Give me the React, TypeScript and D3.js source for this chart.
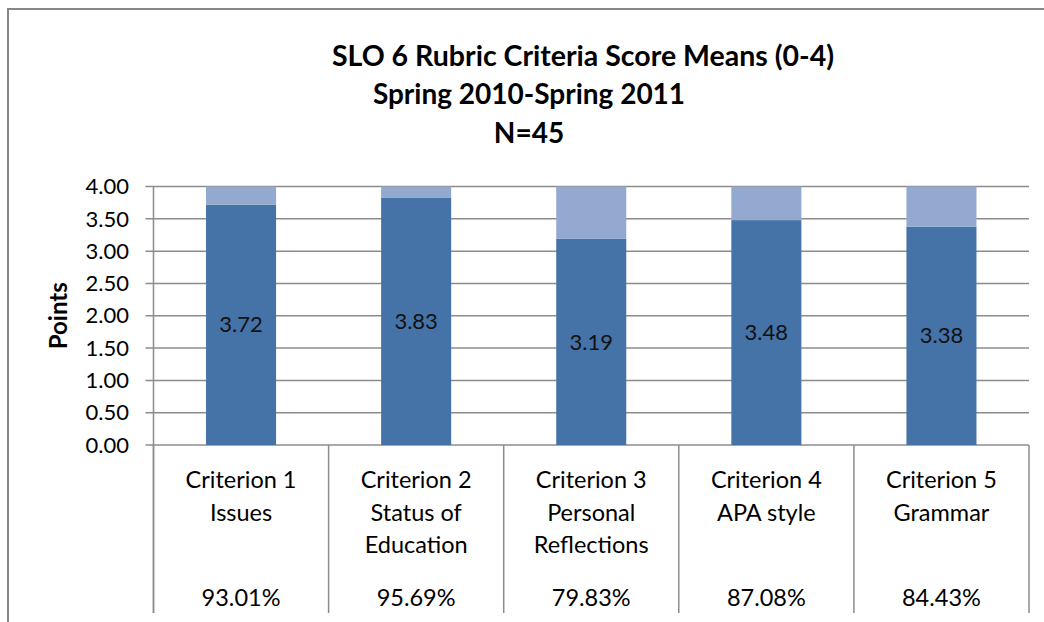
import React from "react";
import * as d3 from "d3";

const width = 1044;
const height = 622;
const margin = { top: 186.5, right: 15, bottom: 177, left: 153.5 };

const categories = [
  ["Criterion 1", "Issues"],
  ["Criterion 2", "Status of", "Education"],
  ["Criterion 3", "Personal", "Reflections"],
  ["Criterion 4", "APA style"],
  ["Criterion 5", "Grammar"],
];
const means = [3.72, 3.83, 3.19, 3.48, 3.38];
const percents = ["93.01%", "95.69%", "79.83%", "87.08%", "84.43%"];
const yTicks = [0, 0.5, 1, 1.5, 2, 2.5, 3, 3.5, 4];
const maxScore = 4;

const darkBlue = "#4572a7";
const lightBlue = "#93a9d0";
const gridColor = "#8c8c8c";
const font = "Lato, 'Open Sans', sans-serif";

export default function App() {
  const plotBottom = height - margin.bottom;
  const plotRight = width - margin.right;

  const x = d3
    .scaleBand<number>()
    .domain(d3.range(means.length))
    .range([margin.left, plotRight])
    .paddingInner(0.6)
    .paddingOuter(0.3);
  const band = d3
    .scaleBand<number>()
    .domain(d3.range(means.length))
    .range([margin.left, plotRight]);
  const y = d3.scaleLinear().domain([0, maxScore]).range([plotBottom, margin.top]);

  const tableBottom = 613;

  return (
    <svg
      width={width}
      height={height}
      style={{ position: "absolute", left: 0, top: 0, background: "#fff" }}
      fontFamily={font}
    >
      {/* outer frame */}
      <rect x={8} y={9} width={width + 10} height={height + 10} fill="none" stroke="#888" strokeWidth={2} />

      {/* titles */}
      <text x={583} y={66} textAnchor="middle" fontSize={28.5} fontWeight="bold" fill="#000">
        SLO 6 Rubric Criteria Score Means (0-4)
      </text>
      <text x={529} y={104} textAnchor="middle" fontSize={28} fontWeight="bold" fill="#000">
        Spring 2010-Spring 2011
      </text>
      <text x={529} y={143} textAnchor="middle" fontSize={28} fontWeight="bold" fill="#000">
        N=45
      </text>

      {/* gridlines + y ticks */}
      {yTicks.map((t) => (
        <g key={t}>
          <line x1={margin.left - 8} x2={plotRight} y1={y(t)} y2={y(t)} stroke={gridColor} strokeWidth={1.5} />
          <text x={129} y={y(t)} dy="0.35em" textAnchor="end" fontSize={22} fill="#000">
            {d3.format(".2f")(t)}
          </text>
        </g>
      ))}
      <line x1={margin.left} x2={margin.left} y1={margin.top} y2={tableBottom} stroke={gridColor} strokeWidth={1.5} />

      <text
        transform={`translate(67 ${(margin.top + plotBottom) / 2}) rotate(-90)`}
        textAnchor="middle"
        fontSize={24}
        fontWeight="bold"
        fill="#000"
      >
        Points
      </text>

      {/* stacked bars */}
      {means.map((m, i) => (
        <g key={i}>
          <rect x={x(i)} y={y(m)} width={x.bandwidth()} height={y(0) - y(m)} fill={darkBlue} />
          <rect x={x(i)} y={y(maxScore)} width={x.bandwidth()} height={y(m) - y(maxScore)} fill={lightBlue} />
          <text
            x={x(i)! + x.bandwidth() / 2}
            y={(y(0) + y(m)) / 2}
            dy="0.35em"
            textAnchor="middle"
            fontSize={22}
            fill="#111"
          >
            {d3.format(".2f")(m)}
          </text>
        </g>
      ))}

      {/* table below the axis */}
      {d3.range(means.length + 1).map((i) => {
        const bx = i < means.length ? band(i)! : plotRight;
        return (
          <line key={i} x1={bx} x2={bx} y1={plotBottom} y2={tableBottom} stroke={gridColor} strokeWidth={1.5} />
        );
      })}
      {categories.map((lines, i) => {
        const cx = band(i)! + band.bandwidth() / 2;
        return (
          <g key={i}>
            {lines.map((l, j) => (
              <text key={j} x={cx} y={480 + j * 32.5} dy="0.35em" textAnchor="middle" fontSize={23.5} fill="#000">
                {l}
              </text>
            ))}
            <text x={cx} y={598} dy="0.35em" textAnchor="middle" fontSize={23.5} fill="#000">
              {percents[i]}
            </text>
          </g>
        );
      })}
    </svg>
  );
}
